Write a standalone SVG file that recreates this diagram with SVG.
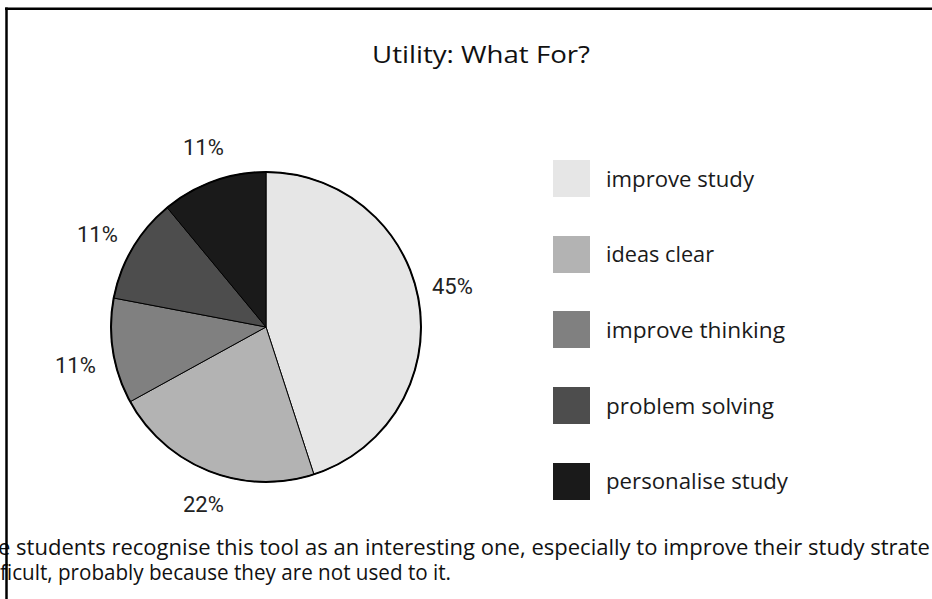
<svg xmlns="http://www.w3.org/2000/svg" width="932" height="599" viewBox="0 0 932 599">
<style>
.sl{stroke:#000;stroke-width:1;stroke-linejoin:round}
.pct{font-family:Roboto,"Liberation Sans",sans-serif;font-size:22px;fill:#222}
.lg{font-family:"Open Sans","Liberation Sans",sans-serif;font-size:22px;fill:#1a1a1a}
.body{font-family:"Open Sans","Liberation Sans",sans-serif;font-size:21px;fill:#111}
.title{font-family:"Open Sans","Liberation Sans",sans-serif;font-size:24px;fill:#111}
</style>
<rect width="932" height="599" fill="#fff"/>
<g id="body-text">
<text class="body" x="-2" y="555" textLength="932" lengthAdjust="spacingAndGlyphs">e students recognise this tool as an interesting one, especially to improve their study strate</text>
<text class="body" x="0" y="580" textLength="451" lengthAdjust="spacingAndGlyphs">ficult, probably because they are not used to it.</text>
</g>
<g id="frame">
<line x1="5" y1="8.75" x2="932" y2="8.75" stroke="#000" stroke-width="2.5"/>
<line x1="6.5" y1="7.5" x2="6.5" y2="599" stroke="#000" stroke-width="2.5"/>
</g>
<g id="title"><text class="title" x="372" y="63" textLength="218" lengthAdjust="spacingAndGlyphs">Utility: What For?</text></g>
<g id="pie">
<path id="slice-improve-study" class="sl" fill="#e6e6e6" d="M266,327 L266,172 A155,155 0 0 1 313.9,474.4 Z"/>
<path id="slice-ideas-clear" class="sl" fill="#b3b3b3" d="M266,327 L313.9,474.4 A155,155 0 0 1 130.2,401.7 Z"/>
<path id="slice-improve-thinking" class="sl" fill="#808080" d="M266,327 L130.2,401.7 A155,155 0 0 1 113.7,298.0 Z"/>
<path id="slice-problem-solving" class="sl" fill="#4d4d4d" d="M266,327 L113.7,298.0 A155,155 0 0 1 167.2,207.6 Z"/>
<path id="slice-personalise-study" class="sl" fill="#1a1a1a" d="M266,327 L167.2,207.6 A155,155 0 0 1 266,172 Z"/>
<circle cx="266" cy="327" r="155" fill="none" stroke="#000" stroke-width="2"/>
</g>
<g id="pct-labels">
<text class="pct" x="183" y="155">11%</text>
<text class="pct" x="77" y="242">11%</text>
<text class="pct" x="432" y="294">45%</text>
<text class="pct" x="55" y="373">11%</text>
<text class="pct" x="183" y="512">22%</text>
</g>
<g id="legend">
<g id="lg1"><rect x="553" y="160" width="37" height="37" fill="#e6e6e6"/><text class="lg" x="606" y="187" textLength="148" lengthAdjust="spacingAndGlyphs">improve study</text></g>
<g id="lg2"><rect x="553" y="236" width="37" height="37" fill="#b3b3b3"/><text class="lg" x="606" y="262" textLength="108" lengthAdjust="spacingAndGlyphs">ideas clear</text></g>
<g id="lg3"><rect x="553" y="311" width="37" height="37" fill="#808080"/><text class="lg" x="606" y="338" textLength="179" lengthAdjust="spacingAndGlyphs">improve thinking</text></g>
<g id="lg4"><rect x="553" y="387" width="37" height="37" fill="#4d4d4d"/><text class="lg" x="606" y="414" textLength="168" lengthAdjust="spacingAndGlyphs">problem solving</text></g>
<g id="lg5"><rect x="553" y="463" width="37" height="37" fill="#1a1a1a"/><text class="lg" x="606" y="489" textLength="182" lengthAdjust="spacingAndGlyphs">personalise study</text></g>
</g>
</svg>
